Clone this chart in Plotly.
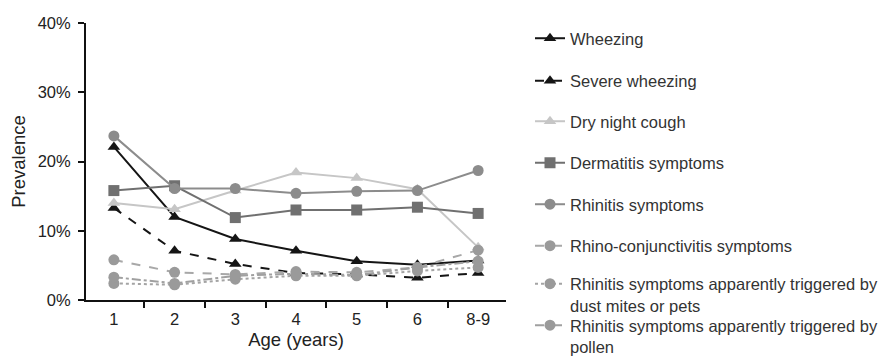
import plotly.graph_objects as go

ages = ["1", "2", "3", "4", "5", "6", "8-9"]

wheezing = [22.1, 12.0, 8.8, 7.1, 5.6, 5.1, 5.7]
severe_wheezing = [13.3, 7.1, 5.2, 3.9, 3.7, 3.2, 3.9]
dry_night_cough = [14.0, 13.1, 15.8, 18.4, 17.6, 16.0, 7.6]
dermatitis = [15.8, 16.5, 11.9, 13.0, 13.0, 13.4, 12.5]
rhinitis = [23.7, 16.1, 16.1, 15.4, 15.7, 15.8, 18.7]
rhino_conj = [5.8, 4.0, 3.7, 4.1, 4.0, 4.7, 7.2]
dust_mites = [2.4, 2.2, 3.0, 3.5, 3.5, 4.2, 4.7]
pollen = [3.3, 2.4, 3.5, 3.8, 3.6, 4.7, 5.6]

series = [
    ("Wheezing", wheezing, "#151515", "solid", "triangle-up", "#151515"),
    ("Severe wheezing", severe_wheezing, "#151515", "dash", "triangle-up", "#151515"),
    ("Dry night cough", dry_night_cough, "#c6c6c6", "solid", "triangle-up", "#c6c6c6"),
    ("Dermatitis symptoms", dermatitis, "#707070", "solid", "square", "#707070"),
    ("Rhinitis symptoms", rhinitis, "#8c8c8c", "solid", "circle", "#8c8c8c"),
    ("Rhino-conjunctivitis symptoms", rhino_conj, "#a8a8a8", "dash", "circle", "#9a9a9a"),
    ("Rhinitis symptoms apparently triggered by<br>dust mites or pets", dust_mites, "#a4a4a4", "dot", "circle", "#9a9a9a"),
    ("Rhinitis symptoms apparently triggered by<br>pollen", pollen, "#a0a0a0", "dashdot", "circle", "#9a9a9a"),
]

OFF = 8  # page body margin
W, H = 896 - OFF, 356 - OFF
# legend item centres in page pixels (two-line items: centre of whole text block)
leg_pix = [38.5, 81, 121.5, 163, 204.5, 246, 294.5, 336]

fig = go.Figure()
for i, (name, vals, lc, dash, sym, mc) in enumerate(series):
    lname = "legend" if i == 0 else f"legend{i+1}"
    fig.add_trace(go.Scatter(
        x=ages, y=vals, name=name, mode="lines+markers",
        line=dict(color=lc, width=2, dash=dash),
        marker=dict(symbol=sym, size=11, color=mc),
        legend=lname,
    ))

PT, PB, PL, PR = 23 - OFF, 300 - OFF, 86 - OFF, 506 - OFF
layout_legends = {}
for i, yp in enumerate(leg_pix):
    lname = "legend" if i == 0 else f"legend{i+1}"
    layout_legends[lname] = dict(
        xref="container", yref="container",
        x=(530 - OFF) / W, xanchor="left",
        y=1 - (yp - OFF) / H, yanchor="middle",
        bgcolor="rgba(0,0,0,0)", borderwidth=0,
        font=dict(family="Arial, Liberation Sans, sans-serif", size=16.5, color="#333333"),
        valign="top",
    )

fig.update_layout(
    width=W, height=H,
    margin=dict(l=PL, r=W - PR, t=PT, b=H - PB, autoexpand=False),
    paper_bgcolor="white", plot_bgcolor="white",
    font=dict(family="Arial, Liberation Sans, sans-serif", size=16.5, color="#222222"),
    showlegend=True,
    **layout_legends,
)

fig.update_xaxes(
    type="category", showgrid=False, showline=True, linecolor="#111111", linewidth=2,
    ticks="outside", tickson="boundaries", ticklen=6, tickwidth=1.5, tickcolor="#111111",
    title=dict(text="Age (years)", font=dict(size=18.5), standoff=6),
    tickfont=dict(size=16.5), ticklabelstandoff=3, automargin=False,
)
fig.update_yaxes(
    range=[0, 40], tickvals=[0, 10, 20, 30, 40], ticktext=["0%", "10%", "20%", "30%", "40%"],
    showgrid=False, zeroline=False, showline=True, linecolor="#111111", linewidth=2,
    ticks="outside", ticklen=6, tickwidth=1.5, tickcolor="#111111",
    title=dict(text="Prevalence", font=dict(size=18.5), standoff=8),
    tickfont=dict(size=16.5), ticklabelstandoff=4, automargin=False,
)

fig.write_html("out.html")
